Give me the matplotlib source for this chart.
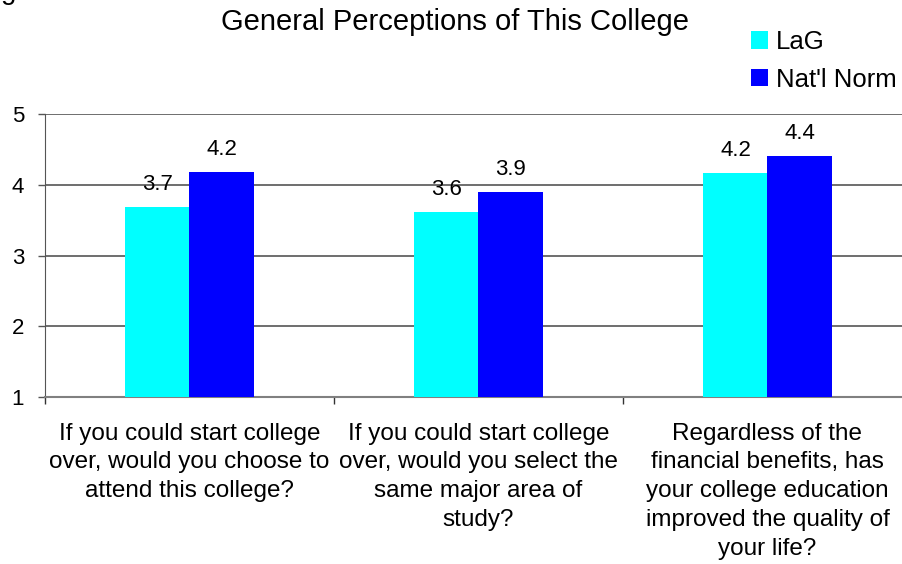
import matplotlib
matplotlib.use("Agg")
import matplotlib.pyplot as plt
import numpy as np

plt.rcParams['font.family'] = ['Liberation Sans', 'DejaVu Sans']

categories = [
    "If you could start college\nover, would you choose to\nattend this college?",
    "If you could start college\nover, would you select the\nsame major area of\nstudy?",
    "Regardless of the\nfinancial benefits, has\nyour college education\nimproved the quality of\nyour life?",
]
series_names = ["LaG", "Nat'l Norm"]
lag_values = [3.69, 3.62, 4.17]
norm_values = [4.18, 3.90, 4.41]
lag_labels = ["3.7", "3.6", "4.2"]
norm_labels = ["4.2", "3.9", "4.4"]
yticks = [1, 2, 3, 4, 5]

W, H = 903, 564
fig = plt.figure(figsize=(W / 100, H / 100), dpi=100)
ax = fig.add_axes([45 / W, 1 - 397 / H, 867 / W, (397 - 114) / H])

x = np.arange(len(categories))
w = 0.2215
b1 = ax.bar(x - w / 2, np.array(lag_values) - 1, w, bottom=1, color='#00FFFF', label=series_names[0], zorder=3)
b2 = ax.bar(x + w / 2, np.array(norm_values) - 1, w, bottom=1, color='#0000FF', label=series_names[1], zorder=3)

for xi, v, t in zip(x - w / 2, lag_values, lag_labels):
    ax.annotate(t, (xi, v), xytext=(0, 12), textcoords='offset points', ha='center', va='baseline', fontsize=16)
for xi, v, t in zip(x + w / 2, norm_values, norm_labels):
    ax.annotate(t, (xi, v), xytext=(0, 12), textcoords='offset points', ha='center', va='baseline', fontsize=16)

ax.set_xlim(-0.5, 2.5)
ax.set_ylim(1, 5)
ax.set_yticks(yticks)
ax.set_yticklabels([str(t) for t in yticks])
ax.yaxis.grid(True, color='#555555', linewidth=1.2, zorder=0)
ax.set_axisbelow(True)
ax.tick_params(axis='y', length=5, width=1, color='#555555', labelsize=16, pad=10)

ax.set_xticks(x)
ax.set_xticklabels(categories, fontsize=17.5, linespacing=1.4, va='top')
ax.tick_params(axis='x', which='major', length=0, pad=18.5)
ax.set_xticks([-0.5, 0.5, 1.5, 2.5], minor=True)
ax.tick_params(axis='x', which='minor', length=5, width=1, color='#333333')

for s in ['top', 'right']:
    ax.spines[s].set_visible(False)
ax.spines['left'].set_color('#555555')
ax.spines['bottom'].set_color('#808080')
ax.spines['bottom'].set_linewidth(1.5)

fig.text(455 / W, 1 - 22 / H, "General Perceptions of This College", ha='center', va='center', fontsize=21)
fig.text(1 / W, 1 + 1 / H, "g", ha='left', va='baseline', fontsize=20)

leg = fig.legend(handles=[b1, b2], labels=series_names, loc='upper left',
                 bbox_to_anchor=(751 / W, 1 - 30 / H), frameon=False, fontsize=18.5,
                 handlelength=0.66, handleheight=0.66, handletextpad=0.3,
                 labelspacing=0.53, borderpad=0, borderaxespad=0)

fig.savefig("out.png", dpi=100)
